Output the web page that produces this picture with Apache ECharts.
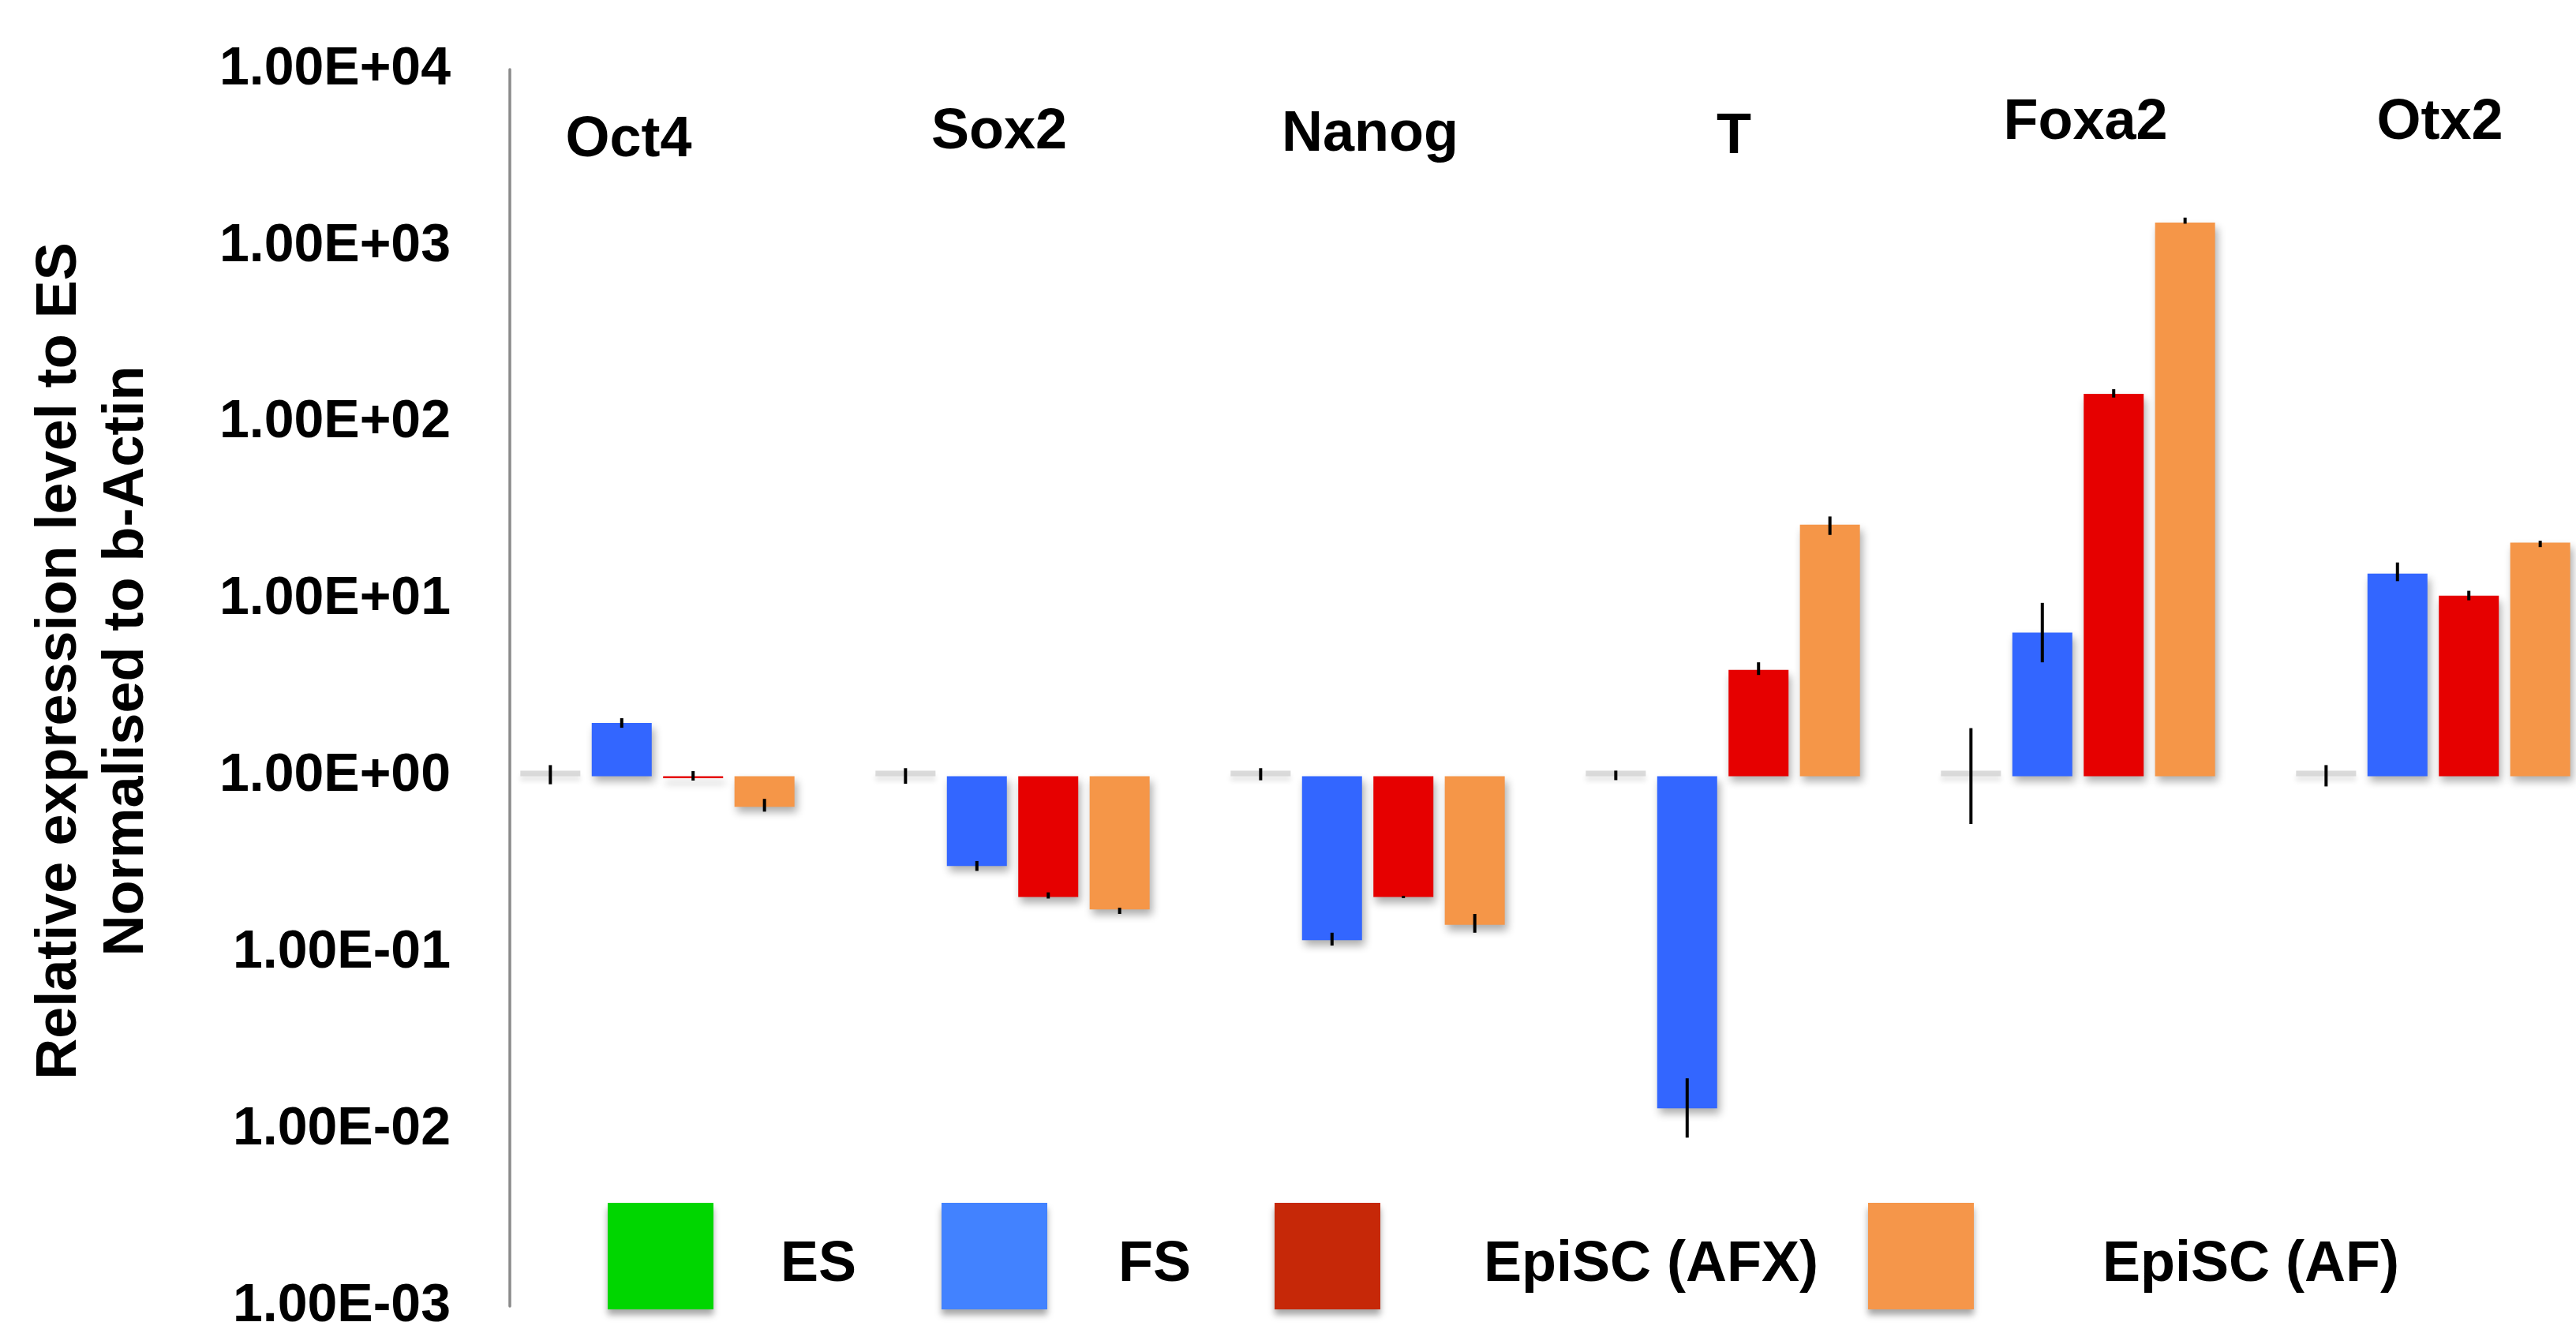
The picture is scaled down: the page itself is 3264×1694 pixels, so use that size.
<!DOCTYPE html>
<html>
<head>
<meta charset="utf-8">
<script src="https://cdn.jsdelivr.net/npm/echarts@6/dist/echarts.min.js"></script>
<style>
  html, body { margin: 0; padding: 0; background: #ffffff; }
  #chart { width: 3264px; height: 1694px; }
</style>
</head>
<body>
<div id="chart"></div>
<script>
// Genes on the category axis
const genes = ['Oct4', 'Sox2', 'Nanog', 'T', 'Foxa2', 'Otx2'];

// Cell lines, one bar series each
const lineNames = ['ES', 'FS', 'EpiSC (AFX)', 'EpiSC (AF)'];

// Relative expression (fold change vs ES, normalised to b-Actin)
const esValues  = [1, 1, 1, 1, 1, 1];
const fsValues  = [2.0, 0.31, 0.118, 0.0132, 6.5, 14.0];
const afxValues = [0.975, 0.207, 0.207, 4.0, 146, 10.5];
const afValues  = [0.67, 0.176, 0.144, 26.5, 1360, 21.0];

// Error bar ends (lower, upper) per gene
const esErrLow   = [0.90, 0.906, 0.948, 0.95, 0.536, 0.875];
const esErrHigh  = [1.155, 1.11, 1.11, 1.075, 1.87, 1.155];
const fsErrLow   = [1.88, 0.291, 0.110, 0.009, 4.41, 12.7];
const fsErrHigh  = [2.13, 0.331, 0.130, 0.0195, 9.57, 16.2];
const afxErrLow  = [0.944, 0.203, 0.204, 3.74, 139, 9.9];
const afxErrHigh = [1.068, 0.220, 0.210, 4.41, 155, 11.2];
const afErrLow   = [0.63, 0.166, 0.130, 23.2, 1340, 19.8];
const afErrHigh  = [0.744, 0.180, 0.166, 29.5, 1450, 21.5];

// Log axis tick labels, from 1e-3 up to 1e4
const yTickLabels = ['1.00E-03', '1.00E-02', '1.00E-01', '1.00E+00',
                     '1.00E+01', '1.00E+02', '1.00E+03', '1.00E+04'];

const barColors    = ['rgba(212,212,212,0.85)', '#3366ff', '#e60000', '#f59648'];
const legendColors = ['#00d600', '#4282ff', '#c62808', '#f5964a'];

const BAR_WIDTH = 76;
const BAR_GAP = 0.19;
const SLOT_STEP = BAR_WIDTH * (1 + BAR_GAP);

const FONT = '"Liberation Sans", Arial, Helvetica, sans-serif';

// Gene labels sit in hand-placed text boxes; padding nudges each one
const genePadding = [
  [22, 73, 0, 0],
  [12, 34, 0, 0],
  [15, 0, 0, 6],
  [18, 0, 0, 28],
  [0, 0, 0, 19],
  [0, 0, 0, 17]
];

const valueSets = [esValues, fsValues, afxValues, afValues];
const errSets = [
  [esErrLow, esErrHigh], [fsErrLow, fsErrHigh],
  [afxErrLow, afxErrHigh], [afErrLow, afErrHigh]
];

const barShadow = {
  shadowBlur: 10,
  shadowColor: 'rgba(0,0,0,0.32)',
  shadowOffsetX: 3,
  shadowOffsetY: 7
};

const barSeries = lineNames.map((name, k) => ({
  name: name,
  type: 'bar',
  data: valueSets[k],
  barWidth: BAR_WIDTH,
  barGap: (BAR_GAP * 100) + '%',
  barMinHeight: k === 0 ? 7 : 0,
  itemStyle: Object.assign({ color: barColors[k] },
    k === 0 ? { shadowBlur: 6, shadowColor: 'rgba(0,0,0,0.12)', shadowOffsetY: 6 } : barShadow),
  emphasis: { disabled: true },
  z: 2
}));

// Error bars drawn on top of each bar slot
const errData = [];
errSets.forEach((pair, k) => {
  genes.forEach((g, i) => {
    errData.push([i, pair[0][i], pair[1][i], k]);
  });
});

const errorSeries = {
  type: 'custom',
  name: 'error',
  data: errData,
  encode: { x: 0, y: [1, 2] },
  z: 5,
  silent: true,
  renderItem: function (params, api) {
    const i = api.value(0);
    const slot = api.value(3);
    const lo = api.coord([i, api.value(1)]);
    const hi = api.coord([i, api.value(2)]);
    const x = lo[0] + (slot - 1.5) * SLOT_STEP;
    return {
      type: 'line',
      shape: { x1: x, y1: hi[1], x2: x, y2: lo[1] },
      style: { stroke: '#000000', lineWidth: 4 }
    };
  }
};

const legendPadLeft = [80, 85, 126, 158];
const legendLeft = [770, 1193, 1615, 2367];

const legends = lineNames.map((name, k) => ({
  data: [{ name: name, itemStyle: { color: legendColors[k] } }],
  left: legendLeft[k],
  top: 1524,
  padding: 0,
  icon: 'rect',
  itemWidth: 134,
  itemHeight: 135,
  selectedMode: false,
  itemStyle: { shadowBlur: 8, shadowColor: 'rgba(0,0,0,0.35)', shadowOffsetY: 7 },
  formatter: '{t|{name}}',
  textStyle: {
    fontFamily: FONT, fontSize: 72, fontWeight: 'bold', color: '#000',
    padding: [0, 0, 0, legendPadLeft[k]],
    rich: {
      t: {
        fontFamily: FONT, fontSize: 72, fontWeight: 'bold', color: '#000',
        lineHeight: 96,
        verticalAlign: 'bottom'
      }
    }
  }
}));

const chart = echarts.init(document.getElementById('chart'), null, { renderer: 'canvas' });

chart.setOption({
  animation: false,
  backgroundColor: '#ffffff',
  legend: legends,
  grid: { left: 608, right: -44, top: 88, bottom: 39, containLabel: false, outerBoundsMode: 'none' },
  xAxis: {
    type: 'category',
    data: genes.map((g, i) => ({
      value: g,
      textStyle: { padding: genePadding[i], verticalAlign: 'top', align: 'center' }
    })),
    position: 'top',
    axisLine: { show: false },
    axisTick: { show: false },
    splitLine: { show: false },
    axisLabel: {
      inside: true,
      margin: 32,
      verticalAlign: 'top',
      fontFamily: FONT,
      fontSize: 72,
      fontWeight: 'bold',
      color: '#000'
    }
  },
  yAxis: {
    type: 'log',
    logBase: 10,
    min: 0.001,
    max: 10000,
    splitNumber: 7,
    offset: -38,
    axisLine: { show: true, lineStyle: { color: '#8a8a8a', width: 3.5 } },
    axisTick: { show: false },
    splitLine: { show: false },
    axisLabel: {
      margin: 75,
      fontFamily: FONT,
      fontSize: 68,
      fontWeight: 'bold',
      color: '#000',
      formatter: function (v) {
        return yTickLabels[Math.round(Math.log10(v)) + 3];
      }
    },
    name: 'Relative expression level to ES\nNormalised to b-Actin',
    nameLocation: 'middle',
    nameRotate: 90,
    nameGap: 442,
    nameTextStyle: {
      fontFamily: FONT,
      fontSize: 72,
      fontWeight: 'bold',
      color: '#000',
      lineHeight: 85,
      align: 'center',
      padding: [0, 0, 0, 68]
    }
  },
  series: barSeries.concat([errorSeries])
});
</script>
</body>
</html>
